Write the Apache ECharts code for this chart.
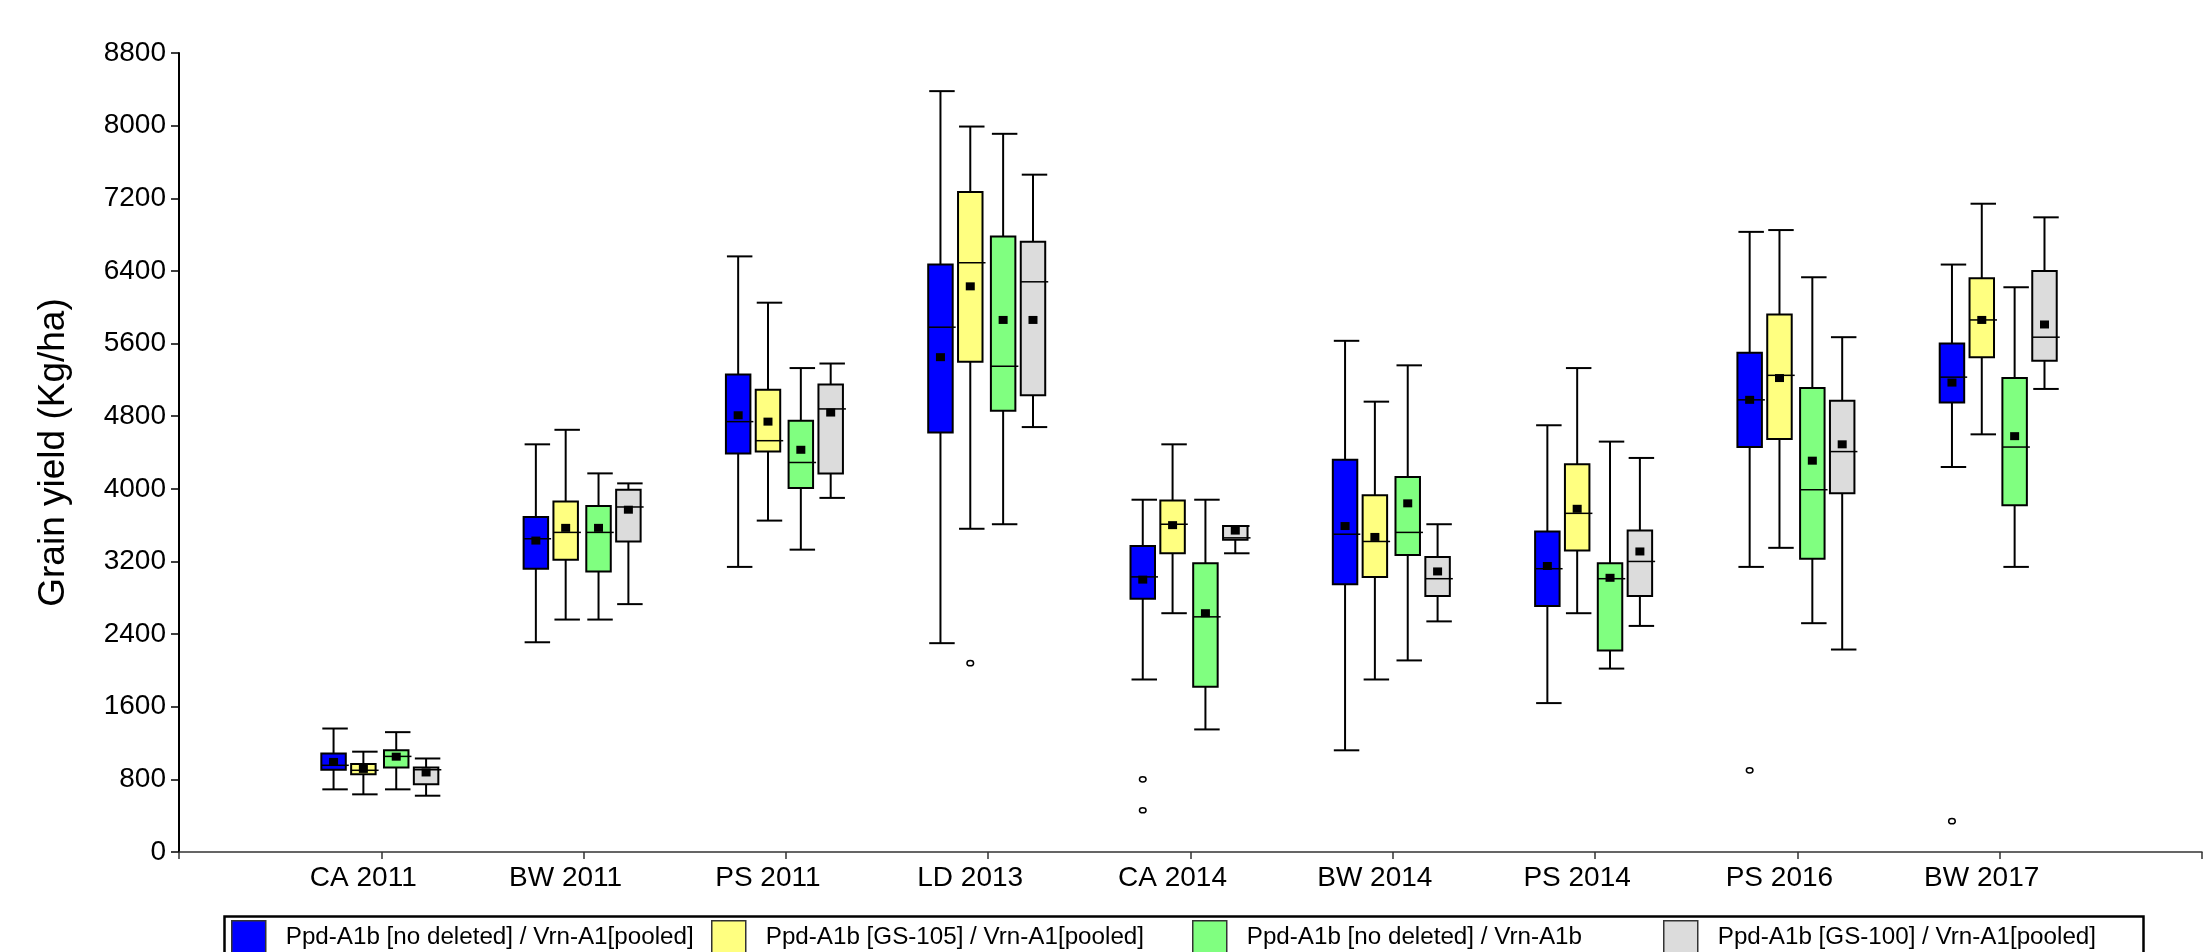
<!DOCTYPE html>
<html><head><meta charset="utf-8">
<script src="https://cdn.jsdelivr.net/npm/echarts@6/dist/echarts.min.js"></script>
<style>html,body{margin:0;padding:0;background:#fff}#c{width:2205px;height:952px}</style>
</head><body><div id="c"></div>
<script>
// ---- DATA ----
const categories = ['CA 2011','BW 2011','PS 2011','LD 2013','CA 2014','BW 2014','PS 2014','PS 2016','BW 2017'];
const seriesNames = [
  'Ppd-A1b [no deleted] / Vrn-A1[pooled]',
  'Ppd-A1b [GS-105] / Vrn-A1[pooled]',
  'Ppd-A1b [no deleted] / Vrn-A1b',
  'Ppd-A1b [GS-100] / Vrn-A1[pooled]'
];
// each entry: [lower whisker, Q1, median, Q3, upper whisker]
const boxBlue = [
  [690, 905, 955, 1085, 1360],
  [2310, 3120, 3450, 3690, 4490],
  [3140, 4390, 4740, 5260, 6560],
  [2300, 4620, 5780, 6470, 8380],
  [1900, 2790, 3030, 3370, 3880],
  [1120, 2950, 3500, 4320, 5630],
  [1640, 2710, 3120, 3530, 4700],
  [3140, 4460, 4980, 5500, 6830],
  [4240, 4950, 5230, 5600, 6470]
];
const meanBlue = [992, 3430, 4810, 5450, 3000, 3590, 3150, 4980, 5170];
const boxYellow = [
  [635, 856, 900, 970, 1105],
  [2560, 3220, 3520, 3860, 4650],
  [3650, 4410, 4530, 5090, 6050],
  [3560, 5400, 6490, 7270, 7990],
  [2630, 3290, 3610, 3870, 4490],
  [1900, 3030, 3420, 3930, 4960],
  [2630, 3320, 3730, 4270, 5330],
  [3350, 4550, 5250, 5920, 6850],
  [4600, 5450, 5860, 6320, 7140]
];
const meanYellow = [915, 3570, 4740, 6230, 3600, 3470, 3780, 5220, 5860];
const boxGreen = [
  [690, 930, 1053, 1120, 1320],
  [2560, 3090, 3520, 3810, 4170],
  [3330, 4010, 4290, 4750, 5330],
  [3610, 4860, 5350, 6780, 7910],
  [1350, 1820, 2590, 3180, 3880],
  [2110, 3270, 3520, 4130, 5360],
  [2020, 2220, 3010, 3180, 4520],
  [2520, 3230, 3990, 5110, 6330],
  [3140, 3820, 4460, 5220, 6220]
];
const meanGreen = [1050, 3570, 4430, 5860, 2630, 3840, 3020, 4310, 4580];
const boxGray = [
  [620, 745, 906, 930, 1030],
  [2730, 3420, 3800, 3990, 4060],
  [3900, 4170, 4880, 5150, 5380],
  [4680, 5030, 6280, 6720, 7460],
  [3290, 3440, 3460, 3590, 3590],
  [2540, 2820, 3010, 3250, 3610],
  [2490, 2820, 3200, 3540, 4340],
  [2230, 3950, 4410, 4970, 5670],
  [5100, 5410, 5670, 6400, 6990]
];
const meanGray = [876, 3770, 4840, 5860, 3540, 3090, 3310, 4490, 5810];
// outliers: [category, value]
const outBlue = [['CA 2014', 800], ['CA 2014', 460], ['PS 2016', 900], ['BW 2017', 340]];
const outYellow = [['LD 2013', 2080]];
const outGreen = [];
const outGray = [];
const yMin = 0, yMax = 8800, yInterval = 800;

// ---- STYLE ----
const colors = ['#0000FF', '#FFFF80', '#80FF80', '#DCDCDC'];
const offsets = [-0.236, -0.0886, 0.0738, 0.2214]; // fraction of category spacing
const boxFrac = 0.121;
const legendLeft = [231, 711, 1192, 1663];
const FONT = "'Liberation Sans', Arial, sans-serif";

const boxes = [boxBlue, boxYellow, boxGreen, boxGray];
const means = [meanBlue, meanYellow, meanGreen, meanGray];
const outs = [outBlue, outYellow, outGreen, outGray];

function boxRender(k) {
  return function (params, api) {
    const x = api.value(0);
    const band = api.size([1, 0])[0];
    const cx = api.coord([x, 0])[0] + offsets[k] * band;
    const Y = i => api.coord([x, api.value(i)])[1];
    const yl = Y(1), yq1 = Y(2), ym = Y(3), yq3 = Y(4), yh = Y(5), ymean = Y(6);
    const hw = boxFrac * band / 2;
    const ls = { stroke: '#000', lineWidth: 2 };
    return {
      type: 'group', children: [
        { type: 'line', shape: { x1: cx, y1: yh, x2: cx, y2: yq3 }, style: ls },
        { type: 'line', shape: { x1: cx, y1: yq1, x2: cx, y2: yl }, style: ls },
        { type: 'line', shape: { x1: cx - hw + 1, y1: yh, x2: cx + hw + 2, y2: yh }, style: ls },
        { type: 'line', shape: { x1: cx - hw + 1, y1: yl, x2: cx + hw + 2, y2: yl }, style: ls },
        { type: 'rect', shape: { x: cx - hw, y: yq3, width: 2 * hw, height: yq1 - yq3 },
          style: { fill: colors[k], stroke: '#000', lineWidth: 2 } },
        { type: 'line', shape: { x1: cx - hw, y1: ym, x2: cx + hw + 3, y2: ym }, style: { stroke: '#000', lineWidth: 1.5 } },
        { type: 'rect', shape: { x: cx - 4.5, y: ymean - 4, width: 9, height: 8 }, style: { fill: '#000' } }
      ]
    };
  };
}
function outRender(k) {
  return function (params, api) {
    const x = api.value(0);
    const band = api.size([1, 0])[0];
    const p = api.coord([x, api.value(1)]);
    return { type: 'ellipse', shape: { cx: p[0] + offsets[k] * band, cy: p[1], rx: 3.3, ry: 2.6 },
      style: { fill: '#fff', stroke: '#000', lineWidth: 1.5 } };
  };
}

const series = [];
for (let k = 0; k < 4; k++) {
  series.push({
    type: 'custom', name: seriesNames[k], renderItem: boxRender(k),
    itemStyle: { color: colors[k] },
    encode: { x: 0, y: [1, 2, 3, 4, 5, 6] },
    data: boxes[k].map((b, i) => [categories[i], b[0], b[1], b[2], b[3], b[4], means[k][i]])
  });
  if (outs[k].length) series.push({
    type: 'custom', name: seriesNames[k], renderItem: outRender(k),
    encode: { x: 0, y: 1 }, data: outs[k]
  });
}

const chart = echarts.init(document.getElementById('c'), null, { renderer: 'canvas' });
chart.setOption({
  animation: false,
  backgroundColor: '#fff',
  grid: { left: 179, top: 53, bottom: 100, right: -6, containLabel: false },
  xAxis: {
    type: 'category', data: [''].concat(categories, ['']), boundaryGap: false,
    axisLine: { lineStyle: { color: '#333', width: 1.5 } },
    axisTick: { show: true, interval: 0, length: 7, lineStyle: { color: '#333', width: 1.5 } },
    axisLabel: { interval: 0, fontSize: 28, color: '#000', fontFamily: FONT, margin: 12, padding: [0, 36, 0, 0] },
    splitLine: { show: false }
  },
  yAxis: {
    type: 'value', min: yMin, max: yMax, interval: yInterval,
    name: 'Grain yield (Kg/ha)', nameLocation: 'middle', nameGap: 107,
    nameTextStyle: { fontSize: 37, color: '#000', fontFamily: FONT },
    axisLine: { show: true, lineStyle: { color: '#000', width: 2 } },
    axisTick: { show: true, length: 8, lineStyle: { color: '#000', width: 1.5 } },
    axisLabel: { fontSize: 28, color: '#000', fontFamily: FONT, margin: 13, formatter: v => String(v) },
    splitLine: { show: false }
  },
  legend: seriesNames.map((n, k) => ({
    data: [{ name: n, icon: 'rect', itemStyle: { color: colors[k], borderColor: '#333', borderWidth: 1.5 } }],
    left: legendLeft[k], top: 920, padding: 0, itemWidth: 34, itemHeight: 34, selectedMode: false,
    textStyle: { fontSize: 24.2, color: '#000', fontFamily: FONT, padding: [0, 0, 0, 15] }
  })),
  graphic: [{
    type: 'rect', left: 222, top: 914, shape: { width: 1919, height: 60 },
    style: { fill: 'none', stroke: '#000', lineWidth: 2.5 }, z: 100, silent: true
  }],
  series: series
});
</script></body></html>
